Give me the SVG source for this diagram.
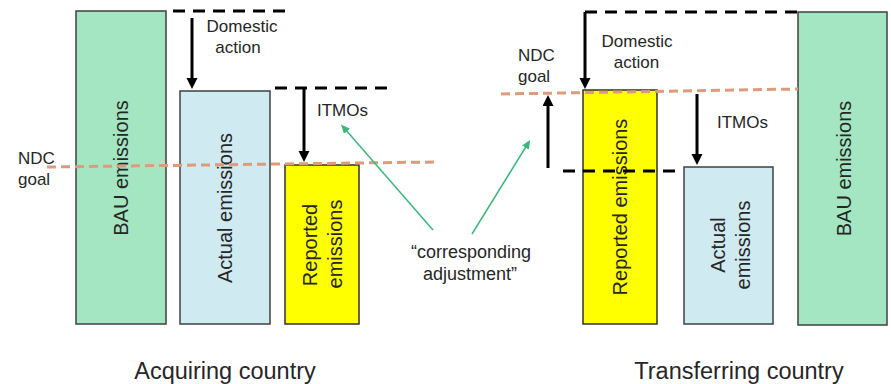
<svg xmlns="http://www.w3.org/2000/svg" width="891" height="384" viewBox="0 0 891 384">
<style>
  text { font-family: "Liberation Sans", Arial, sans-serif; fill: #262626; }
  .lbl { font-size: 17px; }
  .mid { font-size: 18px; }
  .bar { font-size: 20px; }
  .title { font-size: 23.5px; }
  .bau { fill: #A3E6C1; stroke: #404040; stroke-width: 1.5; }
  .act { fill: #CFEAF0; stroke: #404040; stroke-width: 1.5; }
  .rep { fill: #FFFF00; stroke: #303030; stroke-width: 1.5; }
  .dash { fill: none; stroke: #000; stroke-width: 3; stroke-dasharray: 12 8; }
  .ndc { fill: none; stroke: #DC9B7B; stroke-width: 3; stroke-dasharray: 9 5; }
  .arr { fill: none; stroke: #000; stroke-width: 3; marker-end: url(#ah); }
  .garr { fill: none; stroke: #3DB779; stroke-width: 1.5; marker-end: url(#gh); }
</style>
<defs>
  <marker id="ah" markerUnits="userSpaceOnUse" markerWidth="12" markerHeight="12" refX="6" refY="5.5" orient="auto">
    <path d="M0,0 L11,5.5 L0,11 z" fill="#000"/>
  </marker>
  <marker id="gh" markerUnits="userSpaceOnUse" markerWidth="10" markerHeight="10" refX="3" refY="4" orient="auto">
    <path d="M0,0 L9,4 L0,8 z" fill="#3DB779"/>
  </marker>
</defs>
<rect width="891" height="384" fill="#fff"/>

<!-- Acquiring country -->
<g id="acq-bau">
  <rect class="bau" x="76" y="11" width="90" height="313"/>
  <text class="bar" text-anchor="middle" transform="translate(128,168) rotate(-90)">BAU emissions</text>
</g>
<g id="acq-actual">
  <rect class="act" x="180" y="91" width="90" height="233"/>
  <text class="bar" text-anchor="middle" transform="translate(232,208) rotate(-90)">Actual emissions</text>
</g>
<g id="acq-reported">
  <rect class="rep" x="285" y="165" width="74" height="159"/>
  <text class="bar" text-anchor="middle" transform="translate(317,245) rotate(-90)">Reported</text>
  <text class="bar" text-anchor="middle" transform="translate(342,244) rotate(-90)">emissions</text>
</g>
<g id="acq-ndc-label">
  <text class="lbl" x="18" y="164">NDC</text>
  <text class="lbl" x="18" y="185">goal</text>
</g>
<g id="acq-domestic-label">
  <text class="lbl" x="242" y="32" text-anchor="middle">Domestic</text>
  <text class="lbl" x="238" y="53" text-anchor="middle">action</text>
</g>
<g id="acq-itmos-label">
  <text class="lbl" x="317" y="116">ITMOs</text>
</g>
<g id="acq-title">
  <text class="title" x="225" y="379" text-anchor="middle">Acquiring country</text>
</g>

<!-- Transferring country -->
<g id="tr-reported">
  <rect class="rep" x="583" y="90" width="74" height="234"/>
  <text class="bar" text-anchor="middle" transform="translate(627,207) rotate(-90)">Reported emissions</text>
</g>
<g id="tr-actual">
  <rect class="act" x="684" y="167" width="89" height="157"/>
  <text class="bar" text-anchor="middle" transform="translate(725,245) rotate(-90)">Actual</text>
  <text class="bar" text-anchor="middle" transform="translate(750,245) rotate(-90)">emissions</text>
</g>
<g id="tr-bau">
  <rect class="bau" x="798" y="12" width="89" height="313"/>
  <text class="bar" text-anchor="middle" transform="translate(851,168.5) rotate(-90)">BAU emissions</text>
</g>
<g id="tr-ndc-label">
  <text class="lbl" x="518" y="61">NDC</text>
  <text class="lbl" x="518" y="82">goal</text>
</g>
<g id="tr-domestic-label">
  <text class="lbl" x="637" y="47" text-anchor="middle">Domestic</text>
  <text class="lbl" x="636.5" y="68" text-anchor="middle">action</text>
</g>
<g id="tr-itmos-label">
  <text class="lbl" x="717" y="128">ITMOs</text>
</g>
<g id="tr-title">
  <text class="title" x="739" y="379" text-anchor="middle">Transferring country</text>
</g>

<g id="ca-label">
  <text class="mid" x="471" y="258" text-anchor="middle">“corresponding</text>
  <text class="mid" x="470" y="280" text-anchor="middle">adjustment”</text>
</g>

<!-- Connectors -->
<g id="connectors">
  <line class="ndc" x1="47" y1="167" x2="435" y2="162"/>
  <line class="ndc" x1="501" y1="94" x2="798" y2="89"/>

  <line class="dash" x1="173" y1="11" x2="288" y2="11"/>
  <line class="dash" x1="275" y1="88" x2="388" y2="88"/>
  <line class="dash" x1="585" y1="12" x2="798" y2="12"/>
  <line class="dash" x1="563" y1="171" x2="680" y2="171"/>

  <line class="arr" x1="192" y1="18" x2="192" y2="84"/>
  <line class="arr" x1="304" y1="88" x2="304" y2="157"/>
  <line class="arr" x1="585" y1="12" x2="585" y2="84"/>
  <line class="arr" x1="548" y1="168" x2="548" y2="100"/>
  <line class="arr" x1="697" y1="94" x2="697" y2="160"/>

  <line class="garr" x1="433" y1="230" x2="345" y2="129"/>
  <line class="garr" x1="472" y1="234" x2="527" y2="145"/>
</g>
</svg>
